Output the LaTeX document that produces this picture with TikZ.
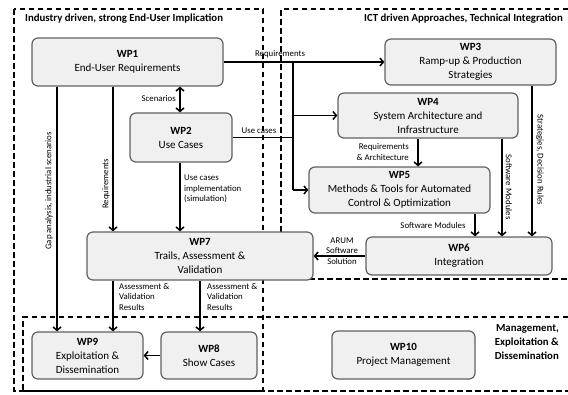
\documentclass[tikz,border=0pt]{standalone}
\usepackage{fontspec}
\setmainfont{Carlito}
\usetikzlibrary{arrows.meta}
\begin{document}
\begin{tikzpicture}[x=1pt,y=-1pt,
  wp/.style={draw=black!62, fill=black!6, line width=1.2pt, rounded corners=6pt,
    align=center, font=\fontsize{11}{14}\selectfont, inner sep=1pt},
  zonebox/.style={line width=1.5pt, dash pattern=on 5.5pt off 3.5pt},
  ln/.style={line width=1.5pt},
  arr/.style={line width=1.5pt, -{Straight Barb[length=3.5pt,width=8pt]}},
  darr/.style={line width=1.5pt, {Straight Barb[length=3.5pt,width=8pt]}-{Straight Barb[length=3.5pt,width=8pt]}},
  lbl/.style={font=\fontsize{8.8}{10.5}\selectfont, inner sep=0pt},
  hdr/.style={font=\bfseries\fontsize{10.8}{14}\selectfont, inner sep=0pt}
]
\useasboundingbox (0,0) rectangle (568,394);

% zones
\draw[zonebox] (14,9) rectangle (263,391);
\draw[zonebox] (568,9) -- (281,9) -- (281,279) -- (568,279);
\draw[zonebox] (568,317) -- (23,317) -- (23,391) -- (568,391);

\node[hdr, anchor=west] (h1) at (25,19) {Industry driven, strong End-User Implication};
\node[hdr, anchor=east] (h2) at (563,19) {ICT driven Approaches, Technical Integration};
\node[hdr, anchor=east, align=right] (h3) at (559,342) {Management,\\Exploitation \&\\Dissemination};

% work packages
\node[wp, minimum width=191pt, minimum height=48pt] (wp1) at (127.5,62) {\textbf{WP1}\\End-User Requirements};
\node[wp, minimum width=102pt, minimum height=49pt] (wp2) at (181,137.5) {\textbf{WP2}\\Use Cases};
\node[wp, minimum width=171pt, minimum height=46pt] (wp3) at (470.5,62) {\textbf{WP3}\\Ramp-up \& Production\\Strategies};
\node[wp, minimum width=180pt, minimum height=45pt] (wp4) at (428,115.5) {\textbf{WP4}\\System Architecture and\\Infrastructure};
\node[wp, minimum width=181pt, minimum height=46pt] (wp5) at (399.5,190) {\textbf{WP5}\\Methods \& Tools for Automated\\Control \& Optimization};
\node[wp, minimum width=186pt, minimum height=38pt] (wp6) at (459,256) {\textbf{WP6}\\Integration};
\node[wp, minimum width=226pt, minimum height=48pt] (wp7) at (200,256) {\textbf{WP7}\\Trails, Assessment \&\\Validation};
\node[wp, minimum width=96pt, minimum height=47pt] (wp8) at (209,355.5) {\textbf{WP8}\\Show Cases};
\node[wp, minimum width=111pt, minimum height=47pt] (wp9) at (87.5,355.5) {\textbf{WP9}\\Exploitation \&\\Dissemination};
\node[wp, minimum width=143pt, minimum height=48pt] (wp10) at (403.5,355) {\textbf{WP10}\\Project Management};

% helper coordinates
\coordinate (tr) at (293,62);
\coordinate (gx) at (57,0);
\coordinate (rx) at (113,0);
\coordinate (ux) at (180,0);
\coordinate (ax) at (418,0);
\coordinate (sx) at (532,0);
\coordinate (mx) at (502,0);
\coordinate (cx) at (475,0);
\coordinate (vx) at (200,0);

% connectors
\draw[arr] (wp1.east) -- (wp3.west);
\draw[ln] (tr) -- (tr |- wp5.west);
\draw[arr] (tr |- wp4.west) -- (wp4.west);
\draw[arr] (tr |- wp5.west) -- (wp5.west);
\draw[ln] (wp2.east) -- (wp2.east -| tr);
\draw[darr] (wp1.south -| ux) -- (wp2.north -| ux);
\draw[arr] (wp1.south -| gx) -- (wp9.north -| gx);
\draw[arr] (wp1.south -| rx) -- (wp7.north -| rx);
\draw[arr] (wp2.south -| ux) -- (wp7.north -| ux);
\draw[arr] (wp4.south -| ax) -- (wp5.north -| ax);
\draw[arr] (wp3.south -| sx) -- (wp6.north -| sx);
\draw[arr] (wp4.south -| mx) -- (wp6.north -| mx);
\draw[arr] (wp5.south -| cx) -- (wp6.north -| cx);
\draw[arr] (wp6.west) -- (wp7.east);
\draw[arr] (wp7.south -| rx) -- (wp9.north -| rx);
\draw[arr] (wp7.south -| vx) -- (wp8.north -| vx);
\draw[arr] (wp8.west) -- (wp9.east);

% labels
\node[lbl] (l1) at (280,54) {Requirements};
\node[lbl] (l2) at (259,131) {Use cases};
\node[lbl, anchor=east] (l3) at (176,99) {Scenarios};
\node[lbl, rotate=90] (l4) at (49,191) {Gap analysis, industrial scenarios};
\node[lbl, rotate=90] (l5) at (106,184) {Requirements};
\node[lbl, anchor=north west, align=left] (l6) at (184,175) {Use cases\\implementation\\(simulation)};
\node[lbl, align=right, anchor=east] (l7) at (409,152) {Requirements\\\& Architecture};
\node[lbl, rotate=-90] (l8) at (540,160) {Strategies, Decision Rules};
\node[lbl, rotate=-90] (l9) at (509,187) {Software Modules};
\node[lbl] (l10) at (433,225) {Software Modules};
\node[lbl, align=center] (l11) at (342,251) {ARUM\\Software\\Solution};
\node[lbl, anchor=north west, align=left] (l12) at (119,283) {Assessment \&\\Validation\\Results};
\node[lbl, anchor=north west, align=left] (l13) at (207,283) {Assessment \&\\Validation\\Results};
\end{tikzpicture}
\end{document}
